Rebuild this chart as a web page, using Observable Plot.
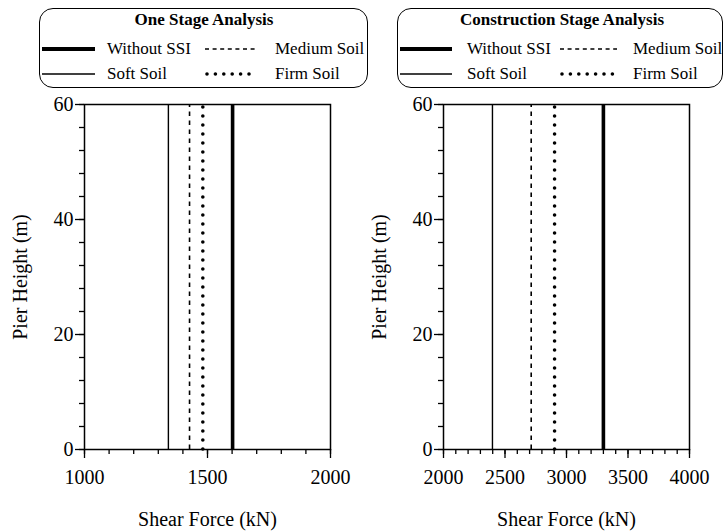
<!DOCTYPE html>
<html>
<head>
<meta charset="utf-8">
<script src="https://cdn.jsdelivr.net/npm/d3@7"></script>
<script src="https://cdn.jsdelivr.net/npm/@observablehq/plot@0.6"></script>
</head>
<body style="margin:0;background:white">
<div id="wrap" style="position:relative;width:724px;height:531px;overflow:hidden;background:white;color:black;font-family:'Liberation Serif'">
  <div style="position:absolute;left:39px;top:8px;width:329px;height:80px;border:1.5px solid black;border-radius:14px;box-sizing:border-box"></div>
  <div style="position:absolute;left:397px;top:8px;width:326px;height:80px;border:1.5px solid black;border-radius:14px;box-sizing:border-box"></div>
  <div id="t0" style="position:absolute;left:0;width:408px;text-align:center;top:10px;font-family:'Liberation Serif';font-weight:bold;font-size:17px;white-space:nowrap"></div>
  <div id="t1" style="position:absolute;left:362px;width:400px;text-align:center;top:10px;font-family:'Liberation Serif';font-weight:bold;font-size:17px;white-space:nowrap"></div>
  <div id="leg0"></div>
  <div id="leg1"></div>
</div>
<script>
// ---- data ----
const seriesNames = ["Without SSI", "Soft Soil", "Medium Soil", "Firm Soil"];
const oneStageShear = [1602, 1341, 1427, 1481];            // kN
const constructionStageShear = [3300, 2398, 2713, 2903];   // kN
const pierHeightRange = [0, 60];                           // m
const oneStageXTicks = [1000, 1500, 2000];
const constructionXTicks = [2000, 2500, 3000, 3500, 4000];
const yTicks = [0, 20, 40, 60];
const panelTitles = ["One Stage Analysis", "Construction Stage Analysis"];

const FONT = "Liberation Serif";

// line styles per series
const styles = {
  "Without SSI": {strokeWidth: 3.6},
  "Soft Soil": {strokeWidth: 1.4},
  "Medium Soil": {strokeWidth: 1.6, strokeDasharray: "4.5,4.5"},
  "Firm Soil": {strokeWidth: 3.6, strokeDasharray: "0,9", strokeLinecap: "round"}
};

const wrap = document.getElementById("wrap");
document.getElementById("t0").textContent = panelTitles[0];
document.getElementById("t1").textContent = panelTitles[1];

function panel(values, xDomain, majorX, minorStep, left, mLeft, mRight) {
  const data = seriesNames.map((s, i) => ({series: s, value: values[i]}));
  const minorX = d3.range(xDomain[0], xDomain[1] + 1, minorStep);
  const minorY = d3.range(0, 61, 4);
  const ruleMarks = seriesNames.map(s =>
    Plot.ruleX(data.filter(d => d.series === s), {x: "value", y1: pierHeightRange[0], y2: pierHeightRange[1], stroke: "black", ...styles[s]})
  );
  const chart = Plot.plot({
    width: 362, height: 441,
    marginLeft: mLeft, marginRight: mRight, marginTop: 14, marginBottom: 82,
    style: {fontFamily: FONT, fontSize: "20px", color: "black", background: "white", overflow: "visible"},
    x: {domain: xDomain},
    y: {domain: pierHeightRange},
    marks: [
      ...ruleMarks,
      Plot.frame({stroke: "black", strokeWidth: 1.5}),
      Plot.axisX({ticks: minorX, tickSize: 5, tickFormat: () => "", label: null, strokeWidth: 1.3}),
      Plot.axisX({ticks: majorX, tickSize: 9, tickPadding: 11, tickFormat: d3.format("d"), strokeWidth: 1.3, fontFamily: FONT,
        label: "Shear Force (kN)", labelAnchor: "center", labelArrow: "none", labelOffset: 76, fill: "black"}),
      Plot.axisY({ticks: minorY, tickSize: 5, tickFormat: () => "", label: null, strokeWidth: 1.3}),
      Plot.axisY({ticks: yTicks, tickSize: 9, tickPadding: 2, tickFormat: d3.format("d"), strokeWidth: 1.3, fontFamily: FONT,
        label: "Pier Height (m)", labelAnchor: "center", labelArrow: "none", labelOffset: 72, fill: "black"})
    ]
  });
  chart.setAttribute("font-family", FONT);
  chart.style.position = "absolute";
  chart.style.top = "90px";
  chart.style.left = left + "px";
  wrap.appendChild(chart);
}

panel(oneStageShear, [1000, 2000], oneStageXTicks, 100, 0, 84, 32);
panel(constructionStageShear, [2000, 4000], constructionXTicks, 100, 362, 81, 35);

// ---- legends ----
function swatch(host, x1, x2, y, style) {
  const ns = "http://www.w3.org/2000/svg";
  const svg = document.createElementNS(ns, "svg");
  svg.setAttribute("width", x2 - x1 + 6);
  svg.setAttribute("height", 10);
  svg.style.position = "absolute";
  svg.style.overflow = "visible";
  svg.style.left = (x1 - 3) + "px";
  svg.style.top = (y - 5) + "px";
  const line = document.createElementNS(ns, "line");
  line.setAttribute("x1", 3); line.setAttribute("x2", x2 - x1 + 3);
  line.setAttribute("y1", 5); line.setAttribute("y2", 5);
  line.setAttribute("stroke", "black");
  line.setAttribute("stroke-width", style.strokeWidth);
  if (style.strokeDasharray) line.setAttribute("stroke-dasharray", style.strokeDasharray);
  if (style.strokeLinecap) line.setAttribute("stroke-linecap", style.strokeLinecap);
  svg.appendChild(line);
  host.appendChild(svg);
}
function label(host, content, x, y) {
  const d = document.createElement("div");
  d.textContent = content;
  d.setAttribute("style", "position:absolute;left:" + x + "px;top:" + (y - 11) + "px;font-family:'Liberation Serif';font-size:17px;line-height:22px;white-space:nowrap");
  host.appendChild(d);
}
function legend(host, L) {
  const r1 = 49, r2 = 74;
  swatch(host, L.s1a, L.s1b, r1, {strokeWidth: 4.2});
  label(host, seriesNames[0], L.t1, r1);
  swatch(host, L.s2a, L.s2b, r1, {strokeWidth: 1.5, strokeDasharray: "4,3.6"});
  label(host, seriesNames[2], L.t2, r1);
  swatch(host, L.s1a, L.s1b, r2, {strokeWidth: 1.5});
  label(host, seriesNames[1], L.t1, r2);
  swatch(host, L.s2a + 2, L.s2b, r2, {strokeWidth: 3.6, strokeDasharray: "0,8.4", strokeLinecap: "round"});
  label(host, seriesNames[3], L.t2, r2);
}
legend(document.getElementById("leg0"), {s1a: 42, s1b: 95, t1: 107, s2a: 205, s2b: 257, t2: 275});
legend(document.getElementById("leg1"), {s1a: 400, s1b: 452, t1: 467, s2a: 560, s2b: 617, t2: 633});
</script>
</body>
</html>
